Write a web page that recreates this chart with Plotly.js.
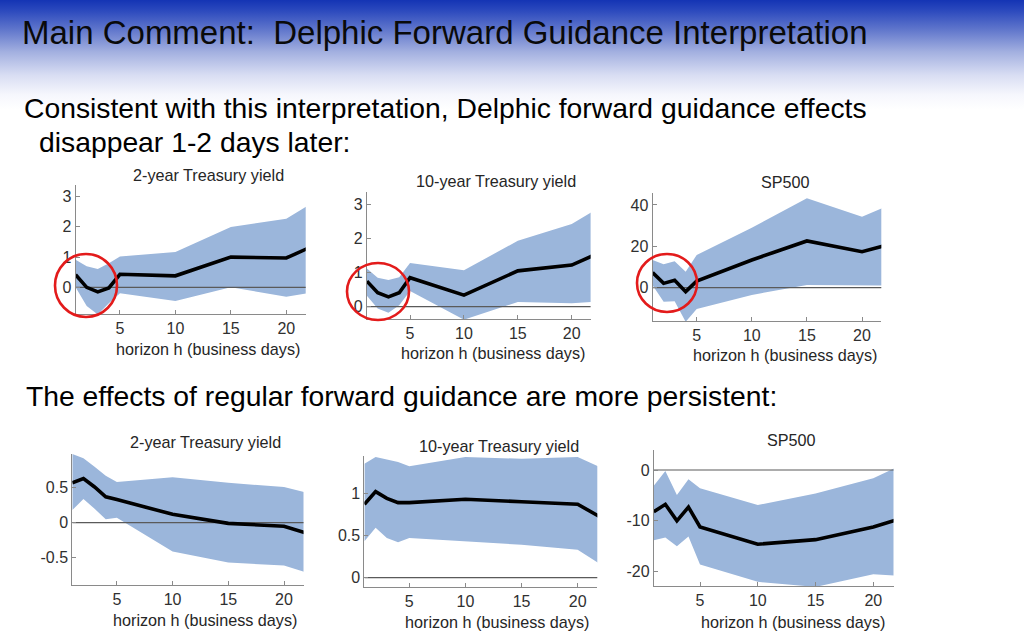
<!DOCTYPE html>
<html>
<head>
<meta charset="utf-8">
<script src="https://cdn.plot.ly/plotly-3.0.1.min.js"></script>
<style>
  html, body { margin:0; padding:0; }
  body {
    width:1024px; height:640px; overflow:hidden;
    background: linear-gradient(to bottom, #1434b4 0px, #2a48bd 10px, #6177cc 30px, #a3b0e0 52px, #d8ddf3 75px, #f6f7fd 95px, #ffffff 110px);
  }
  #chart { width:1024px; height:640px; }
</style>
</head>
<body>
<div id="chart"></div>
<script>
// ---------- data ----------
const horizons = [1, 2, 3, 4, 5, 10, 15, 20, 22];
const xTicks = [5, 10, 15, 20];

// Delphic forward guidance
const delphic2yEst = [0.42, 0.0, -0.15, -0.02, 0.43, 0.38, 1.0, 0.97, 1.3];
const delphic2yUp  = [0.91, 0.70, 0.61, 0.80, 1.02, 1.17, 2.0, 2.27, 2.72];
const delphic2yLo  = [0.0, -0.62, -0.9, -0.53, -0.2, -0.45, 0.0, -0.31, -0.19];

const delphic10yEst = [0.75, 0.41, 0.29, 0.41, 0.85, 0.34, 1.05, 1.22, 1.5];
const delphic10yUp  = [1.12, 0.85, 0.78, 0.86, 1.28, 1.07, 1.93, 2.42, 2.8];
const delphic10yLo  = [0.32, -0.05, -0.18, 0.04, 0.46, -0.38, 0.14, 0.1, 0.14];

const delphicSpEst = [7.3, 2.1, 3.6, -1.9, 3.2, 13.4, 22.6, 17.4, 20.3];
const delphicSpUp  = [13.4, 11.3, 12.8, 7.7, 15.8, 29, 43.2, 34.3, 38.8];
const delphicSpLo  = [1.2, -6.8, -6.5, -16.5, -10.3, -3.5, 1.3, 1.0, 1.0];

// Regular forward guidance
const regular2yEst = [0.57, 0.63, 0.51, 0.37, 0.33, 0.12, -0.01, -0.05, -0.15];
const regular2yUp  = [0.98, 0.92, 0.80, 0.67, 0.58, 0.65, 0.57, 0.51, 0.43];
const regular2yLo  = [0.18, 0.34, 0.20, 0.05, 0.07, -0.41, -0.57, -0.61, -0.71];

const regular10yEst = [0.87, 1.02, 0.94, 0.89, 0.89, 0.93, 0.90, 0.87, 0.72];
const regular10yUp  = [1.35, 1.43, 1.40, 1.37, 1.32, 1.43, 1.41, 1.43, 1.31];
const regular10yLo  = [0.43, 0.59, 0.47, 0.42, 0.47, 0.43, 0.39, 0.33, 0.16];

const regularSpEst = [-8.2, -6.75, -10, -7.3, -11.2, -14.6, -13.7, -11.2, -9.8];
const regularSpUp  = [-3.1, -0.2, -4.9, -1.8, -3.6, -6.9, -4.6, -1.6, 0.5];
const regularSpLo  = [-13.8, -13.3, -15, -13.1, -18.6, -22, -23, -20.5, -20.8];

const panelTitles = ["2-year Treasury yield", "10-year Treasury yield", "SP500",
                     "2-year Treasury yield", "10-year Treasury yield", "SP500"];
const xLabel = "horizon h (business days)";
const yTicks = [[0, 1, 2, 3], [0, 1, 2, 3], [0, 20, 40], [-0.5, 0, 0.5], [0, 0.5, 1], [-20, -10, 0]];
const yTickText = [["0","1","2","3"], ["0","1","2","3"], ["0","20","40"], ["-0.5","0","0.5"], ["0","0.5","1"], ["-20","-10","0"]];

const headline = "Main Comment:  Delphic Forward Guidance Interpretation";
const text1a = "Consistent with this interpretation, Delphic forward guidance effects";
const text1b = "disappear 1-2 days later:";
const text2 = "The effects of regular forward guidance are more persistent:";

// ---------- layout helpers ----------
const W = 1024, H = 640;
const px = v => v / W;
const py = v => 1 - v / H;

const series = [
  [delphic2yEst, delphic2yUp, delphic2yLo],
  [delphic10yEst, delphic10yUp, delphic10yLo],
  [delphicSpEst, delphicSpUp, delphicSpLo],
  [regular2yEst, regular2yUp, regular2yLo],
  [regular10yEst, regular10yUp, regular10yLo],
  [regularSpEst, regularSpUp, regularSpLo]
];

// pixel boxes [left, right, top, bottom] and y ranges
const boxes = [
  [75.6, 305.7, 184.9, 314.2],
  [366.9, 590.6, 191.7, 319.0],
  [652.6, 881.3, 193.4, 321.0],
  [72.3, 303.5, 454.1, 585.0],
  [364.4, 597.3, 456.2, 586.9],
  [653.8, 893.5, 450.2, 585.9]
];
const yRanges = [[-0.89, 3.39], [-0.36, 3.37], [-16.1, 45.6], [-0.89, 0.98], [-0.11, 1.44], [-22.8, 3.9]];
const xRange = [1, 21.75];

const titlePos = [[208, 175], [495.7, 181], [785, 181.7], [205, 442.3], [499.3, 446], [791.7, 440]];
const xlabPos  = [[208, 349], [493.3, 352.7], [785, 355], [205, 620], [496.7, 621.7], [793.3, 621.7]];

const bandColor = '#9bb6db';
const axColor = '#8a8a8a';
const tickFont = {family: 'Liberation Sans, Arial, sans-serif', size: 16, color: '#303030'};
const labelFont = {family: 'Liberation Sans, Arial, sans-serif', size: 16.2, color: '#262626'};

const traces = [];
const layout = {
  width: W, height: H,
  margin: {l: 0, r: 0, t: 0, b: 0},
  paper_bgcolor: 'rgba(0,0,0,0)',
  plot_bgcolor: 'rgba(0,0,0,0)',
  showlegend: false,
  annotations: [],
  shapes: []
};

const zeroX = [horizons[0], horizons[horizons.length - 1]];

series.forEach((s, i) => {
  const n = i + 1;
  const xa = n === 1 ? 'x' : 'x' + n;
  const ya = n === 1 ? 'y' : 'y' + n;
  const [est, up, lo] = s;
  traces.push({x: horizons, y: lo, xaxis: xa, yaxis: ya, mode: 'lines', line: {width: 0, color: bandColor}, hoverinfo: 'skip'});
  traces.push({x: horizons, y: up, xaxis: xa, yaxis: ya, mode: 'lines', line: {width: 0, color: bandColor}, fill: 'tonexty', fillcolor: bandColor, hoverinfo: 'skip'});
  traces.push({x: zeroX, y: [0, 0], xaxis: xa, yaxis: ya, mode: 'lines', line: {width: 1.2, color: '#5a5a5a'}, hoverinfo: 'skip'});
  traces.push({x: horizons, y: est, xaxis: xa, yaxis: ya, mode: 'lines', line: {width: 3.6, color: '#000000'}});

  const b = boxes[i];
  const xKey = n === 1 ? 'xaxis' : 'xaxis' + n;
  const yKey = n === 1 ? 'yaxis' : 'yaxis' + n;
  layout[xKey] = {
    domain: [px(b[0]), px(b[1])], range: xRange, anchor: ya,
    showgrid: false, zeroline: false, showline: true, linecolor: axColor, linewidth: 1,
    ticks: 'inside', ticklen: 4, tickcolor: axColor,
    tickvals: xTicks, tickfont: tickFont, fixedrange: true
  };
  layout[yKey] = {
    domain: [py(b[3]), py(b[2])], range: yRanges[i], anchor: xa,
    showgrid: false, zeroline: false, showline: true, linecolor: axColor, linewidth: 1,
    ticks: 'inside', ticklen: 4, tickcolor: axColor,
    tickvals: yTicks[i], ticktext: yTickText[i], tickfont: tickFont, fixedrange: true
  };

  layout.annotations.push({
    text: panelTitles[i], xref: 'paper', yref: 'paper',
    x: px(titlePos[i][0]), y: py(titlePos[i][1]), xanchor: 'center', yanchor: 'middle',
    showarrow: false, font: labelFont
  });
  layout.annotations.push({
    text: xLabel, xref: 'paper', yref: 'paper',
    x: px(xlabPos[i][0]), y: py(xlabPos[i][1]), xanchor: 'center', yanchor: 'middle',
    showarrow: false, font: labelFont
  });
});

// slide texts
layout.annotations.push({
  text: headline, xref: 'paper', yref: 'paper', x: px(20), y: py(33),
  xanchor: 'left', yanchor: 'middle', showarrow: false,
  font: {family: 'Liberation Sans, Arial, sans-serif', size: 33, color: '#0a0a0a'}
});
layout.annotations.push({
  text: text1a, xref: 'paper', yref: 'paper', x: px(22), y: py(108),
  xanchor: 'left', yanchor: 'middle', showarrow: false,
  font: {family: 'Liberation Sans, Arial, sans-serif', size: 28.3, color: '#000000'}
});
layout.annotations.push({
  text: text1b, xref: 'paper', yref: 'paper', x: px(37), y: py(142),
  xanchor: 'left', yanchor: 'middle', showarrow: false,
  font: {family: 'Liberation Sans, Arial, sans-serif', size: 28.3, color: '#000000'}
});
layout.annotations.push({
  text: text2, xref: 'paper', yref: 'paper', x: px(24), y: py(396),
  xanchor: 'left', yanchor: 'middle', showarrow: false,
  font: {family: 'Liberation Sans, Arial, sans-serif', size: 28.3, color: '#000000'}
});

// red highlight circles
const circles = [[55, 117, 254, 317], [347, 409, 263, 320], [637, 697, 254, 312]];
circles.forEach(c => {
  layout.shapes.push({
    type: 'circle', xref: 'paper', yref: 'paper',
    x0: px(c[0]), x1: px(c[1]), y0: py(c[3]), y1: py(c[2]),
    line: {color: '#e31b1b', width: 2.6}
  });
});

Plotly.newPlot('chart', traces, layout, {staticPlot: true, displayModeBar: false});
</script>
</body>
</html>
